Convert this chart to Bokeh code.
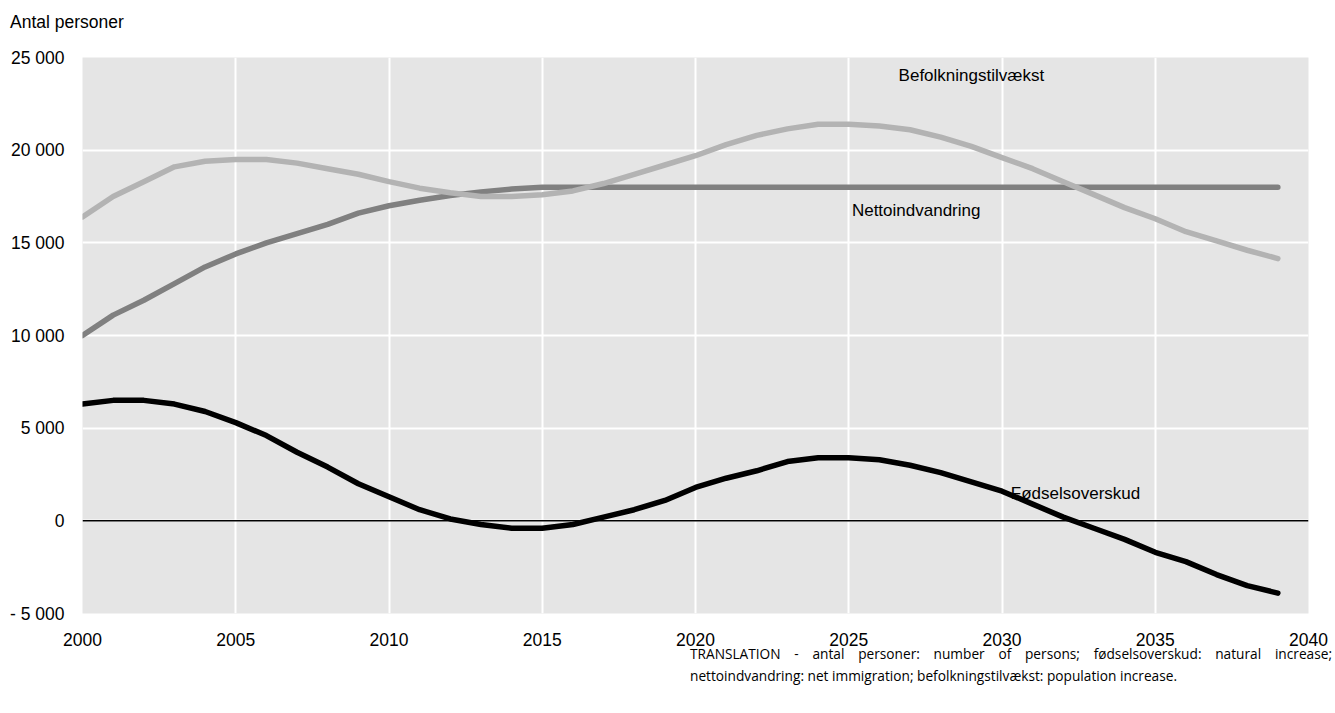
from bokeh.plotting import figure
from bokeh.models import FixedTicker, Span, Label, Div, Spacer
from bokeh.layouts import column, row
from bokeh.embed import file_html
from bokeh.resources import INLINE

years = list(range(2000, 2040))

befolkningstilvaekst = [16400, 17500, 18300, 19100, 19400, 19500, 19500, 19300, 19000, 18700,
                        18300, 17950, 17700, 17500, 17500, 17600, 17800, 18200, 18700, 19200,
                        19700, 20300, 20800, 21150, 21400, 21400, 21300, 21100, 20700, 20200,
                        19600, 19000, 18300, 17600, 16900, 16300, 15600, 15100, 14600, 14150]

nettoindvandring = [10000, 11100, 11900, 12800, 13700, 14400, 15000, 15500, 16000, 16600,
                    17000, 17300, 17550, 17750, 17900, 18000, 18000, 18000, 18000, 18000,
                    18000, 18000, 18000, 18000, 18000, 18000, 18000, 18000, 18000, 18000,
                    18000, 18000, 18000, 18000, 18000, 18000, 18000, 18000, 18000, 18000]

foedselsoverskud = [6300, 6500, 6500, 6300, 5900, 5300, 4600, 3700, 2900, 2000,
                    1300, 600, 100, -200, -400, -400, -200, 200, 600, 1100,
                    1800, 2300, 2700, 3200, 3400, 3400, 3300, 3000, 2600, 2100,
                    1600, 900, 200, -400, -1000, -1700, -2200, -2900, -3500, -3900]

x_ticks = [2000, 2005, 2010, 2015, 2020, 2025, 2030, 2035, 2040]
y_ticks = [-5000, 0, 5000, 10000, 15000, 20000, 25000]
y_tick_labels = ["- 5 000", "0", "5 000", "10 000", "15 000", "20 000", "25 000"]

series_labels = ["Befolkningstilvækst", "Nettoindvandring", "Fødselsoverskud"]
y_axis_title = "Antal personer"
translation = ("TRANSLATION - antal personer: number of persons; fødselsoverskud: natural increase; "
               "nettoindvandring: net immigration; befolkningstilvækst: population increase.")

label_pos = [(2029.0, 24030), (2027.2, 16750), (2032.4, 1480)]

FONT = "Liberation Sans"
W, H = 1333, 615
p = figure(width=W, height=H, x_range=(2000, 2040), y_range=(-5000, 25000),
           output_backend="svg", toolbar_location=None,
           min_border_left=82, min_border_right=25, min_border_top=24, min_border_bottom=35)
p.background_fill_color = "#e5e5e5"
p.border_fill_color = "white"
p.outline_line_color = None

p.xaxis.ticker = FixedTicker(ticks=x_ticks)
p.yaxis.ticker = FixedTicker(ticks=y_ticks)
p.yaxis.major_label_overrides = {t: l for t, l in zip(y_ticks, y_tick_labels)}
for ax in (p.xaxis[0], p.yaxis[0]):
    ax.axis_line_color = None
    ax.major_tick_line_color = None
    ax.minor_tick_line_color = None
    ax.major_label_text_font = FONT
    ax.major_label_text_font_size = "17.5px"
    ax.major_label_text_color = "black"
p.yaxis.major_label_standoff = 12
p.xaxis.major_label_standoff = 13

p.xgrid.ticker = FixedTicker(ticks=x_ticks)
p.ygrid.ticker = FixedTicker(ticks=y_ticks)
for g in (p.xgrid[0], p.ygrid[0]):
    g.grid_line_color = "white"
    g.grid_line_width = 2

p.add_layout(Span(location=0, dimension="width", line_color="black", line_width=1.5))

p.line(years, nettoindvandring, line_color="#808080", line_width=5.5, line_cap="round", line_join="round")
p.line(years, befolkningstilvaekst, line_color="#b3b3b3", line_width=5.5, line_cap="round", line_join="round")
p.line(years, foedselsoverskud, line_color="black", line_width=5.5, line_cap="round", line_join="round")

for txt, (xx, yy) in zip(series_labels, label_pos):
    p.add_layout(Label(x=xx, y=yy, text=txt, text_align="center", text_baseline="middle",
                       text_font=FONT, text_font_size="17px", text_color="black"))

head = Div(text=y_axis_title, width=300, height=22, margin=(11, 0, 0, 10),
           styles={"font-family": "'Liberation Sans', sans-serif", "font-size": "17.5px",
                   "line-height": "22px", "color": "black", "white-space": "nowrap"})

note = Div(text=translation, width=642, margin=(-5, 0, 0, 0),
           styles={"font-family": "'Open Sans', sans-serif", "font-size": "13.7px",
                   "text-align": "justify", "line-height": "22px", "color": "black"})

layout = column(head, p, row(Spacer(width=690, height=10), note), spacing=0)

open("out.html", "w").write(file_html(layout, INLINE))
